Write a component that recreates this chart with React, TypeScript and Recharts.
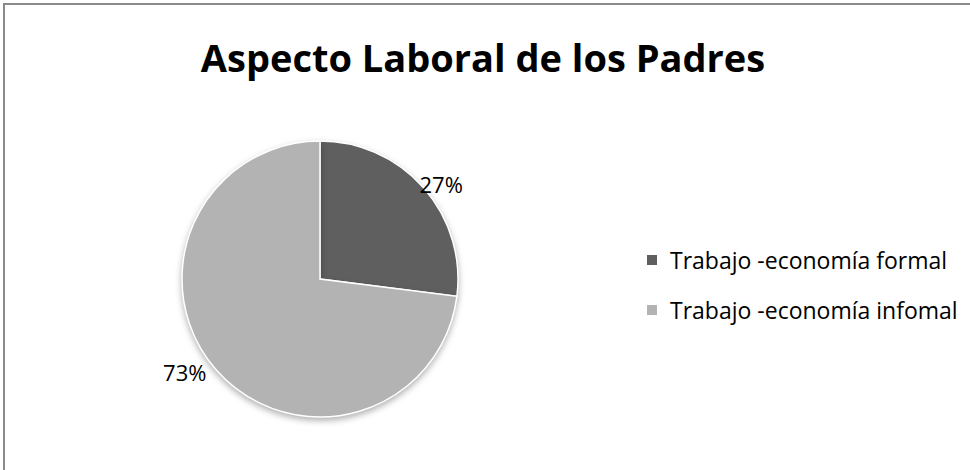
import React from "react";
import { PieChart, Pie, Cell, Legend } from "recharts";

const categories = ["Trabajo -economía formal", "Trabajo -economía infomal"];
const values = [27, 73];
const colors = ["#5f5f5f", "#b3b3b3"];

const data = categories.map((name, i) => ({ name, value: values[i] }));

const RADIAN = Math.PI / 180;
const FONT = "'Open Sans', 'Noto Sans', sans-serif";

function renderLabel(props: any) {
  const { cx, cy, midAngle, outerRadius, percent } = props;
  const r = outerRadius + 4;
  const x = cx + r * Math.cos(-midAngle * RADIAN);
  const y = cy + r * Math.sin(-midAngle * RADIAN);
  return (
    <text
      x={x}
      y={y}
      dx={-7}
      dy={-1}
      fill="#000"
      fontSize={22}
      fontFamily={FONT}
      textAnchor={x > cx ? "start" : "end"}
      dominantBaseline="central"
    >
      {`${Math.round(percent * 100)}%`}
    </text>
  );
}

function LegendContent({ payload }: any) {
  return (
    <div>
      {(payload || []).map((entry: any, i: number) => (
        <div
          key={`item-${i}`}
          style={{ display: "flex", alignItems: "center", height: 26, marginBottom: i === 0 ? 24 : 0 }}
        >
          <span style={{ width: 10, height: 10, background: entry.color, marginRight: 13, display: "inline-block", flexShrink: 0 }} />
          <span style={{ fontFamily: FONT, fontSize: 23, color: "#000", whiteSpace: "nowrap" }}>{entry.value}</span>
        </div>
      ))}
    </div>
  );
}

export default function App() {
  return (
    <div style={{ position: "fixed", left: 0, top: 0, width: 970, height: 470, background: "#fff", overflow: "hidden" }}>
      <style>{`.recharts-pie-sector path { filter: drop-shadow(0px 3px 3px rgba(0,0,0,0.3)); }`}</style>
      <div
        style={{
          position: "absolute",
          left: 3,
          top: 3,
          width: 980,
          height: 480,
          borderTop: "2px solid #8a8a8a",
          borderLeft: "2px solid #8a8a8a",
        }}
      />
      <div
        style={{
          position: "absolute",
          left: 0,
          top: 31,
          width: 966,
          textAlign: "center",
          fontFamily: FONT,
          fontWeight: 700,
          fontSize: 38,
          color: "#000",
          whiteSpace: "nowrap",
        }}
      >
        Aspecto Laboral de los Padres
      </div>
      <div style={{ position: "absolute", left: 0, top: 0 }}>
        <PieChart width={970} height={470} margin={{ top: 0, right: 0, bottom: 0, left: 0 }}>
          <Pie
            data={data}
            dataKey="value"
            nameKey="name"
            cx={320}
            cy={279}
            outerRadius={138}
            startAngle={90}
            endAngle={-270}
            stroke="#ffffff"
            strokeWidth={1.5}
            label={renderLabel}
            labelLine={false}
            isAnimationActive={false}
          >
            {data.map((d, i) => (
              <Cell key={`cell-${i}`} fill={colors[i]} />
            ))}
          </Pie>
          <Legend
            layout="vertical"
            align="right"
            verticalAlign="top"
            content={<LegendContent />}
            wrapperStyle={{ left: 647, top: 247, width: 320 }}
          />
        </PieChart>
      </div>
    </div>
  );
}
